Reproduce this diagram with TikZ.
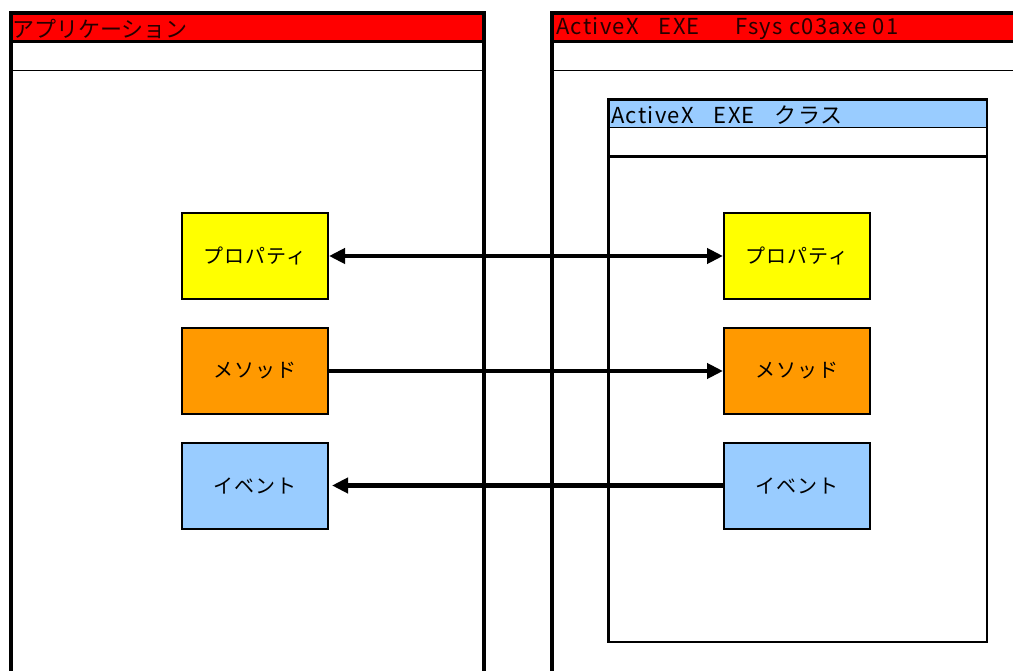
\documentclass[tikz,border=0pt]{standalone}
\usepackage{fontspec}
\setmainfont{Liberation Sans}
\newfontfamily\jp{Noto Sans CJK JP}
\newfontfamily\jpwide{Noto Sans CJK JP}[LetterSpace=6]
\usetikzlibrary{arrows.meta}
\definecolor{titlered}{RGB}{255,0,0}
\definecolor{paleblue}{RGB}{153,204,255}
\definecolor{boxyellow}{RGB}{255,255,0}
\definecolor{boxorange}{RGB}{255,153,0}
\tikzset{
  itembox/.style={draw=black, line width=2pt, minimum width=146pt, minimum height=86pt, inner sep=0pt, font=\jpwide\fontsize{20}{20}\selectfont},
  conn/.style={line width=4.5pt, draw=black},
  titletext/.style={anchor=west, inner sep=0pt, text=black!85!red, font=\jpwide\fontsize{22}{22}\selectfont}
}
\begin{document}
\begin{tikzpicture}[x=1pt,y=-1pt]
\useasboundingbox (0,0) rectangle (1013,671);
\fill[white] (0,0) rectangle (1013,671);
% left window
\fill[titlered] (11,13) rectangle (484,41);
\draw[line width=1.5pt] (11,70.5) -- (484,70.5);
\draw[line width=3pt] (11,42) -- (484,42);
\draw[line width=4pt] (11,671) -- (11,13) -- (484,13) -- (484,671);
\node[titletext, font=\jp\fontsize{22}{22}\selectfont] (apptitle) at (12,29) {アプリケーション};
% right window
\fill[titlered] (552,13) rectangle (1013,41);
\draw[line width=1.5pt] (552,70.5) -- (1013,70.5);
\draw[line width=3pt] (552,42) -- (1013,42);
\draw[line width=4pt] (552,671) -- (552,13) -- (1015,13);
\node[titletext] (exetitle) at (556,29) {ActiveX\hspace{0.9em}EXE\hspace{1.6em}Fsys c03axe 01};
% inner class box
\fill[paleblue] (608.5,99.5) rectangle (987,127);
\draw[line width=1.5pt] (608.5,127.5) -- (987,127.5);
\draw[line width=3pt] (608.5,156.5) -- (987,156.5);
\draw[line width=2.5pt] (608.5,99.5) rectangle (987,642);
\node[titletext, text=black] (clstitle) at (611,115) {ActiveX\hspace{0.9em}EXE\hspace{0.9em}クラス};
% item boxes
\node[itembox, fill=boxyellow] (lprop) at (255,256) {プロパティ};
\node[itembox, fill=boxorange] (lmeth) at (255,371) {メソッド};
\node[itembox, fill=paleblue] (levt) at (255,485.5) {イベント};
\node[itembox, fill=boxyellow] (rprop) at (797,256) {プロパティ};
\node[itembox, fill=boxorange] (rmeth) at (797,371) {メソッド};
\node[itembox, fill=paleblue] (revt) at (797,485.5) {イベント};
% connectors
\draw[conn, {Triangle[length=16pt,width=15pt]}-{Triangle[length=16pt,width=15pt]}] (lprop.east) -- (rprop.west);
\draw[conn, -{Triangle[length=16pt,width=15pt]}] (lmeth.east) -- (rmeth.west);
\draw[conn, -{Triangle[length=16pt,width=15pt]}] (revt.west) -- ([xshift=3pt]levt.east);
\end{tikzpicture}
\end{document}
